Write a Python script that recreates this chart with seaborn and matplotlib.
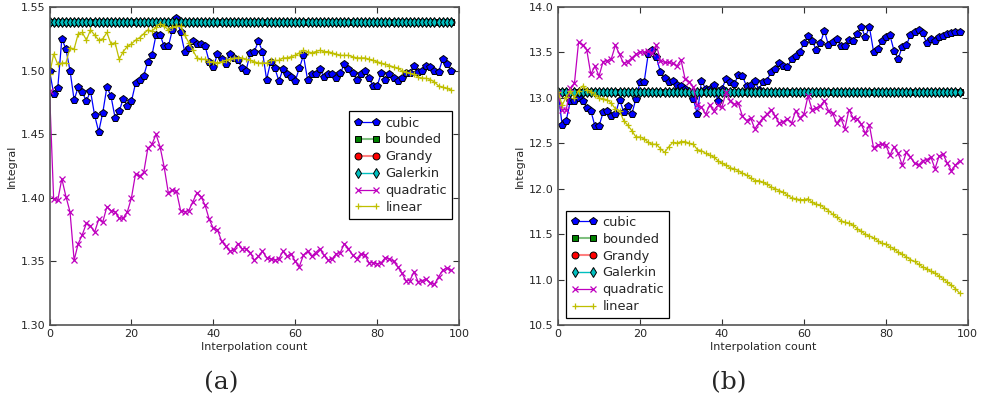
import numpy as np
import matplotlib
matplotlib.use("Agg")
from matplotlib import pyplot as plt
import seaborn as sb

sb.set_style("white")
plt.rcParams['font.family'] = ['DejaVu Sans']

interp_count = list(range(99))

# panel (a)
cubic_a = [1.500, 1.482, 1.486, 1.525, 1.517, 1.500, 1.477, 1.487, 1.483, 1.476,
           1.484, 1.465, 1.452, 1.467, 1.487, 1.480, 1.463, 1.468, 1.478, 1.472,
           1.476, 1.490, 1.493, 1.496, 1.507, 1.512, 1.528, 1.528, 1.519, 1.519,
           1.532, 1.541, 1.530, 1.515, 1.518, 1.523, 1.521, 1.521, 1.519, 1.507,
           1.503, 1.513, 1.509, 1.505, 1.513, 1.510, 1.508, 1.502, 1.500, 1.514,
           1.515, 1.523, 1.515, 1.493, 1.507, 1.502, 1.492, 1.501, 1.497, 1.495,
           1.492, 1.502, 1.512, 1.493, 1.497, 1.497, 1.501, 1.495, 1.497, 1.497,
           1.494, 1.498, 1.505, 1.501, 1.498, 1.493, 1.497, 1.500, 1.494, 1.488,
           1.488, 1.498, 1.493, 1.497, 1.494, 1.492, 1.494, 1.498, 1.498, 1.504,
           1.499, 1.500, 1.504, 1.503, 1.500, 1.499, 1.509, 1.505, 1.500]
bounded_a = [1.538] * 99
grandy_a = [1.538] * 99
galerkin_a = [1.538] * 99
quadratic_a = [1.484, 1.399, 1.398, 1.415, 1.401, 1.389, 1.351, 1.364, 1.371, 1.380,
               1.378, 1.373, 1.383, 1.381, 1.393, 1.390, 1.389, 1.384, 1.384, 1.389,
               1.400, 1.419, 1.417, 1.420, 1.439, 1.442, 1.450, 1.440, 1.424, 1.404,
               1.406, 1.405, 1.390, 1.389, 1.390, 1.397, 1.404, 1.401, 1.394, 1.383,
               1.376, 1.375, 1.366, 1.362, 1.358, 1.359, 1.364, 1.360, 1.360, 1.357,
               1.351, 1.354, 1.358, 1.353, 1.352, 1.351, 1.352, 1.358, 1.354, 1.356,
               1.350, 1.346, 1.355, 1.358, 1.354, 1.357, 1.360, 1.355, 1.351, 1.352,
               1.356, 1.357, 1.364, 1.360, 1.355, 1.352, 1.356, 1.355, 1.349, 1.349,
               1.348, 1.349, 1.353, 1.352, 1.350, 1.346, 1.341, 1.335, 1.335, 1.342,
               1.334, 1.335, 1.336, 1.333, 1.332, 1.338, 1.343, 1.345, 1.343]
linear_a = [1.497, 1.513, 1.505, 1.506, 1.506, 1.518, 1.517, 1.529, 1.530, 1.524,
            1.532, 1.528, 1.524, 1.525, 1.530, 1.521, 1.522, 1.509, 1.515, 1.519,
            1.521, 1.524, 1.526, 1.529, 1.532, 1.531, 1.534, 1.537, 1.535, 1.532,
            1.534, 1.535, 1.535, 1.528, 1.522, 1.516, 1.510, 1.509, 1.509, 1.507,
            1.507, 1.506, 1.507, 1.508, 1.509, 1.510, 1.510, 1.510, 1.509, 1.508,
            1.507, 1.506, 1.506, 1.506, 1.508, 1.508, 1.508, 1.510, 1.510, 1.511,
            1.512, 1.514, 1.516, 1.515, 1.514, 1.515, 1.516, 1.515, 1.515, 1.514,
            1.513, 1.512, 1.512, 1.512, 1.511, 1.510, 1.510, 1.510, 1.509, 1.508,
            1.507, 1.506, 1.505, 1.504, 1.503, 1.502, 1.500, 1.499, 1.498, 1.497,
            1.495, 1.494, 1.494, 1.493, 1.491, 1.488, 1.487, 1.486, 1.485]

# panel (b)
cubic_b = [13.07, 12.70, 12.75, 12.97, 12.97, 13.00, 12.97, 12.89, 12.86, 12.69,
           12.69, 12.84, 12.86, 12.80, 12.82, 12.98, 12.85, 12.91, 12.82, 12.99,
           13.17, 13.17, 13.48, 13.53, 13.45, 13.28, 13.22, 13.18, 13.19, 13.14,
           13.13, 13.10, 13.07, 12.99, 12.82, 13.19, 13.10, 13.10, 13.14, 12.97,
           13.10, 13.21, 13.17, 13.15, 13.25, 13.24, 13.13, 13.14, 13.19, 13.09,
           13.18, 13.19, 13.29, 13.32, 13.38, 13.35, 13.34, 13.43, 13.46, 13.50,
           13.60, 13.68, 13.63, 13.53, 13.60, 13.74, 13.58, 13.61, 13.65, 13.57,
           13.57, 13.64, 13.63, 13.70, 13.78, 13.67, 13.78, 13.51, 13.54, 13.63,
           13.67, 13.69, 13.52, 13.43, 13.56, 13.58, 13.69, 13.72, 13.75, 13.71,
           13.60, 13.65, 13.63, 13.67, 13.68, 13.70, 13.71, 13.73, 13.73]
bounded_b = [13.06] * 99
grandy_b = [13.06] * 99
galerkin_b = [13.06] * 99
quadratic_b = [13.05, 12.87, 12.87, 13.11, 13.16, 13.61, 13.58, 13.53, 13.26, 13.35,
               13.24, 13.40, 13.41, 13.43, 13.58, 13.48, 13.38, 13.40, 13.44, 13.48,
               13.51, 13.50, 13.52, 13.49, 13.58, 13.41, 13.39, 13.39, 13.38, 13.35,
               13.42, 13.21, 13.18, 13.12, 12.92, 12.90, 12.82, 12.92, 12.86, 12.92,
               12.90, 13.06, 12.97, 12.93, 12.94, 12.80, 12.75, 12.78, 12.66, 12.72,
               12.78, 12.82, 12.87, 12.80, 12.72, 12.74, 12.77, 12.72, 12.86, 12.78,
               12.82, 13.02, 12.87, 12.89, 12.91, 12.97, 12.86, 12.83, 12.72, 12.78,
               12.66, 12.87, 12.78, 12.77, 12.71, 12.61, 12.70, 12.45, 12.48, 12.49,
               12.48, 12.37, 12.46, 12.39, 12.26, 12.40, 12.35, 12.28, 12.26, 12.31,
               12.32, 12.35, 12.22, 12.36, 12.38, 12.28, 12.20, 12.26, 12.31]
linear_b = [13.07, 12.92, 13.01, 13.08, 13.00, 13.08, 13.13, 13.09, 13.07, 13.03,
            13.00, 12.99, 12.98, 12.94, 12.88, 12.86, 12.75, 12.70, 12.64, 12.57,
            12.57, 12.55, 12.51, 12.49, 12.49, 12.44, 12.40, 12.46, 12.51, 12.50,
            12.52, 12.52, 12.50, 12.49, 12.43, 12.42, 12.39, 12.37, 12.35, 12.31,
            12.28, 12.26, 12.23, 12.22, 12.20, 12.17, 12.15, 12.12, 12.09, 12.09,
            12.07, 12.05, 12.02, 12.00, 11.98, 11.96, 11.93, 11.90, 11.89, 11.88,
            11.88, 11.89, 11.85, 11.83, 11.82, 11.79, 11.76, 11.72, 11.69, 11.65,
            11.63, 11.62, 11.60, 11.56, 11.53, 11.50, 11.48, 11.46, 11.43, 11.40,
            11.39, 11.36, 11.34, 11.30, 11.28, 11.25, 11.22, 11.20, 11.17, 11.14,
            11.12, 11.09, 11.07, 11.04, 11.01, 10.97, 10.94, 10.90, 10.85]

BLUE = (0, 0, 1)
GREEN = (0, 0.5, 0)
RED = (1, 0, 0)
CYAN = (0, 0.75, 0.75)
MAGENTA = (0.75, 0, 0.75)
YELLOW = (0.75, 0.75, 0)


#Function to draw one panel with all six methods
def plot_panel(ax, cubic, bounded, grandy, galerkin, quadratic, linear):
    sb.lineplot(x=interp_count, y=cubic, ax=ax, color=BLUE, lw=0.9,
                marker='p', ms=5.5, mfc=BLUE, mec='k', mew=0.7,
                errorbar=None, label='cubic')
    sb.lineplot(x=interp_count, y=bounded, ax=ax, color=GREEN + (0.5,), lw=1.5,
                marker='s', ms=5, mfc=GREEN, mec='k', mew=0.7,
                errorbar=None, label='bounded')
    sb.lineplot(x=interp_count, y=grandy, ax=ax, color=RED + (0.5,), lw=1.5,
                marker='o', ms=5, mfc=RED, mec='k', mew=0.7,
                errorbar=None, label='Grandy')
    sb.lineplot(x=interp_count, y=galerkin, ax=ax, color=CYAN, lw=1.0,
                marker='d', ms=4.8, mfc=CYAN, mec='k', mew=0.7,
                errorbar=None, label='Galerkin')
    sb.lineplot(x=interp_count, y=quadratic, ax=ax, color=MAGENTA, lw=0.9,
                marker='x', ms=4.5, mec=MAGENTA, mew=0.9,
                errorbar=None, label='quadratic')
    sb.lineplot(x=interp_count, y=linear, ax=ax, color=YELLOW, lw=0.9,
                marker='+', ms=5, mec=YELLOW, mew=0.9,
                errorbar=None, label='linear')

    ax.set_xlim(0, 100)
    ax.set_xticks([0, 20, 40, 60, 80, 100])
    ax.set_xlabel("Interpolation count", fontsize=8, labelpad=2)
    ax.set_ylabel("Integral", fontsize=8, labelpad=3)
    ax.tick_params(direction='in', length=4, width=0.8, labelsize=8, pad=3,
                   top=True, right=True, bottom=True, left=True, color='#333333')
    for s in ax.spines.values():
        s.set_color('#555555')
        s.set_linewidth(1.2)
    return ax


fig = plt.figure(figsize=(9.83, 4.03), dpi=100)
ax_a = fig.add_axes([0.0504, 0.1935, 0.4166, 0.789])
ax_b = fig.add_axes([0.5677, 0.1935, 0.4168, 0.789])

plot_panel(ax_a, cubic_a, bounded_a, grandy_a, galerkin_a, quadratic_a, linear_a)
ax_a.set_ylim(1.30, 1.55)
ax_a.set_yticks([1.30, 1.35, 1.40, 1.45, 1.50, 1.55])

plot_panel(ax_b, cubic_b, bounded_b, grandy_b, galerkin_b, quadratic_b, linear_b)
ax_b.set_ylim(10.5, 14.0)
ax_b.set_yticks([10.5, 11.0, 11.5, 12.0, 12.5, 13.0, 13.5, 14.0])

leg_opts = dict(fontsize=9.3, frameon=True, fancybox=False, edgecolor='k',
                framealpha=1, numpoints=2, handlelength=2.0, handletextpad=0.4,
                labelspacing=0.3, borderpad=0.4, borderaxespad=0)
leg = ax_a.legend(loc='lower right', bbox_to_anchor=(0.983, 0.333), **leg_opts)
leg.get_frame().set_linewidth(0.9)
leg = ax_b.legend(loc='lower left', bbox_to_anchor=(0.02, 0.021), **leg_opts)
leg.get_frame().set_linewidth(0.9)

fig.text(0.2246, 0.0504, "(a)", family='DejaVu Serif', fontsize=18,
         ha='center', va='center')
fig.text(0.7416, 0.0504, "(b)", family='DejaVu Serif', fontsize=18,
         ha='center', va='center')

plt.savefig("out.png", dpi=100)
